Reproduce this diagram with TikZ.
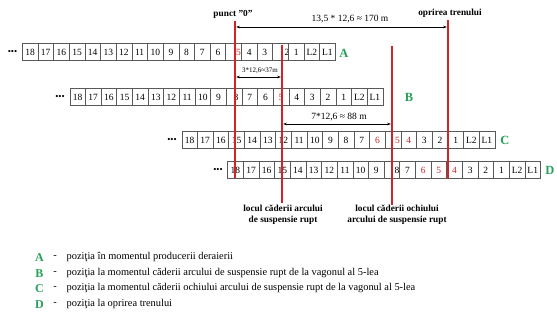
\documentclass[tikz,border=0pt]{standalone}
\usepackage{fontspec}
\setmainfont{Liberation Serif}
\usetikzlibrary{arrows.meta}
\definecolor{grn}{RGB}{40,160,90}
\definecolor{rln}{RGB}{210,35,40}
\definecolor{rtx}{RGB}{205,40,40}
\newcommand\shtxt[2]{\makebox[0pt]{\hspace*{#1}#2}}
\begin{document}
\begin{tikzpicture}[x=1pt,y=-1pt,
  cell/.style={draw=black!65, line width=0.5pt, minimum width=15.65pt, minimum height=17pt,
    inner sep=0pt, anchor=west, font=\fontsize{9.5}{10}\selectfont},
  rowlet/.style={text=grn, font=\fontsize{12.5}{13}\selectfont\bfseries},
  dots/.style={font=\fontsize{9}{9}\selectfont, inner sep=0pt},
  redline/.style={draw=rln, line width=2pt},
  dim/.style={draw=black, line width=0.6pt, {Stealth[length=4pt,width=2.6pt]}-{Stealth[length=4pt,width=2.6pt]}},
  lbl/.style={font=\fontsize{9.3}{11}\selectfont\bfseries, align=center, inner sep=0pt},
  dimtxt/.style={font=\fontsize{9.5}{10}\selectfont, inner sep=0pt},
  legtxt/.style={font=\fontsize{10.4}{11}\selectfont, anchor=west, inner sep=0pt},
  legdash/.style={font=\fontsize{10.4}{11}\selectfont, inner sep=0pt},
  leglet/.style={text=grn, font=\fontsize{12}{12}\selectfont\bfseries, inner sep=0pt}]
\useasboundingbox[fill=white] (0,0) rectangle (557,325);

% row A
\node[dots] (dA) at (12.5,52) {•••};
\foreach \t/\c [count=\i from 0] in {18/black,17/black,16/black,15/black,14/black,13/black,12/black,11/black,10/black,9/black,8/black,7/black,6/black,{\shtxt{10pt}{5}}/rtx,4/black,3/black,{\shtxt{13pt}{2}}/black,1/black,L2/black,L1/black}
  \node[cell, text=\c] (A\i) at (22+\i*15.65,52) {\t};
\node[rowlet] (lA) at (344,53) {A};

% row B
\node[dots] (dB) at (60,97) {•••};
\foreach \t/\c [count=\i from 0] in {18/black,17/black,16/black,15/black,14/black,13/black,12/black,11/black,10/black,9/black,{\shtxt{4pt}{8}}/black,7/black,6/black,5/rtx,4/black,3/black,2/black,1/black,L2/black,L1/black}
  \node[cell, text=\c] (B\i) at (69.5+\i*15.65,97) {\t};
\node[rowlet] (lB) at (409,97) {B};

% row C
\node[dots] (dC) at (172,140) {•••};
\foreach \t/\c [count=\i from 0] in {18/black,17/black,16/black,15/black,14/black,13/black,12/black,11/black,10/black,9/black,8/black,7/black,6/rtx,{\shtxt{9pt}{5}}/rtx,4/rtx,3/black,2/black,1/black,L2/black,L1/black}
  \node[cell, text=\c] (C\i) at (181.5+\i*15.65,140) {\t};
\node[rowlet] (lC) at (505,140) {C};

% row D
\node[dots] (dD) at (218,170) {•••};
\foreach \t/\c [count=\i from 0] in {18/black,17/black,16/black,15/black,14/black,13/black,12/black,11/black,10/black,9/black,{\shtxt{10pt}{8}}/black,7/black,6/rtx,5/rtx,4/rtx,3/black,2/black,1/black,L2/black,L1/black}
  \node[cell, text=\c] (D\i) at (227.3+\i*15.65,170) {\t};
\node[rowlet] (lD) at (550,170) {D};

% red lines
\coordinate (l1t) at (235,21);  \coordinate (l1b) at (235,178);
\coordinate (l2t) at (282,45);  \coordinate (l2b) at (282,203);
\coordinate (l3t) at (392,46);  \coordinate (l3b) at (392,205);
\coordinate (l4t) at (448,20);  \coordinate (l4b) at (448,179);
\draw[redline] (l1t) -- (l1b);
\draw[redline] (l2t) -- (l2b);
\draw[redline] (l3t) -- (l3b);
\draw[redline] (l4t) -- (l4b);

% dimension arrows
\coordinate (a1) at (236,27);  \coordinate (a4) at (447,27);
\coordinate (b1) at (236,77);  \coordinate (b2) at (281,77);
\coordinate (c2) at (283,124); \coordinate (c3) at (391,124);
\draw[dim] (a1) -- (a4);
\draw[dim] (b1) -- (b2);
\draw[dim] (c2) -- (c3);
\node[dimtxt] (ta) at (350,19) {13,5 * 12,6 ≈ 170 m};
\node[dimtxt, font=\fontsize{7}{8}\selectfont] (tb) at (260,70.5) {3*12,6≈37m};
\node[dimtxt] (tc) at (339,117.5) {7*12,6 ≈ 88 m};

% labels
\node[lbl] (p0) at (233,14) {punct "0"};
\node[lbl] (op) at (450,13.5) {oprirea trenului};
\node[lbl] (loc1) at (283,214.5) {locul căderii arcului\\de suspensie rupt};
\node[lbl] (loc2) at (397,214.5) {locul căderii ochiului\\arcului de suspensie rupt};

% legend
\foreach \L/\txt [count=\k from 0] in {A/poziţia în momentul producerii deraierii,
  B/poziţia la momentul căderii arcului de suspensie rupt de la vagonul al 5-lea,
  C/poziţia la momentul căderii ochiului arcului de suspensie rupt de la vagonul al 5-lea,
  D/poziţia la oprirea trenului} {
  \node[leglet] (g\L) at (39.5,257.5+\k*15.6) {\L};
  \node[legdash] (h\L) at (55,257+\k*15.6) {-};
  \node[legtxt] (e\L) at (66.5,257+\k*15.6) {\txt};
}
\end{tikzpicture}
\end{document}
